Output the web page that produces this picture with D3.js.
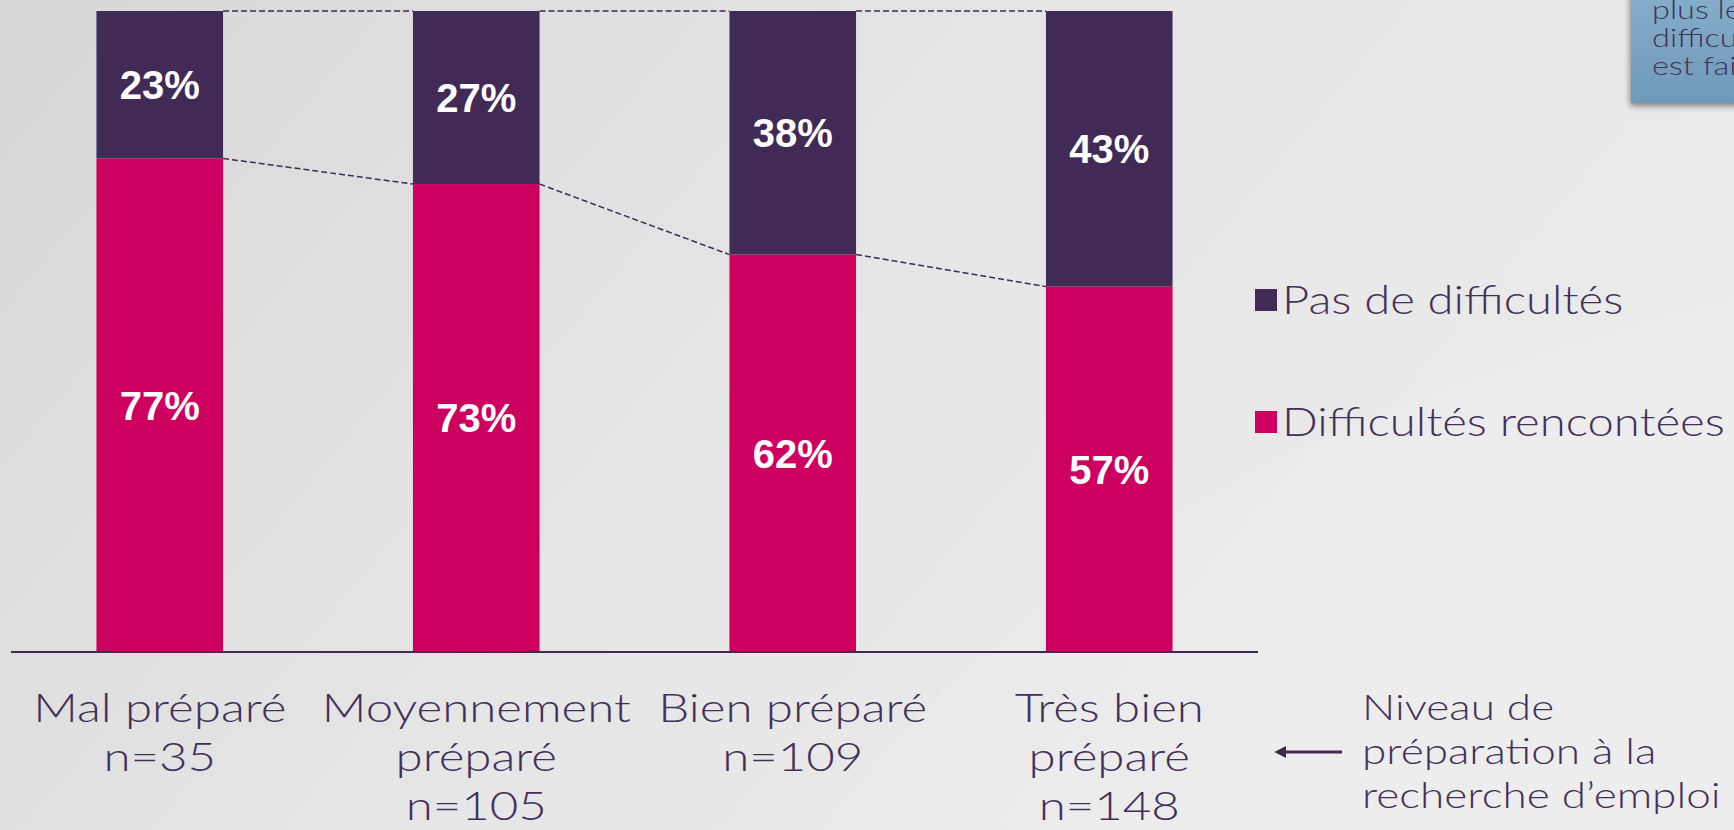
<!DOCTYPE html>
<html>
<head>
<meta charset="utf-8">
<script src="https://cdn.jsdelivr.net/npm/d3@7"></script>
<style>
  html, body { margin: 0; padding: 0; overflow: hidden; }
  body { width: 1734px; height: 830px; }
  svg { display: block; font-family: 'Lato', 'Open Sans', sans-serif; }
</style>
</head>
<body>
<div id="chart"></div>
<script>
// chart values
const categories = ['Mal préparé', 'Moyennement préparé', 'Bien préparé', 'Très bien préparé'];
const categoryLines = [
  ['Mal préparé', 'n=35'],
  ['Moyennement', 'préparé', 'n=105'],
  ['Bien préparé', 'n=109'],
  ['Très bien', 'préparé', 'n=148'],
];
const difficultes = [77, 73, 62, 57];
const pasDeDifficultes = [23, 27, 38, 43];
const seriesNames = ['Difficultés rencontées', 'Pas de difficultés'];
const noteLines = ['plus  le niveau', 'difficultés', 'est faible'];
const axisNote = ['Niveau de', 'préparation à la', 'recherche d\u2019emploi'];

const cfg = {
  width: 1734,
  height: 830,
  purple: '#422a57',
  magenta: '#cd0060',
  text: '#43305a',
  stretch: 1.23, // widen Lato so it reads like the wide geometric face of the slide
};

const svg = d3.select('#chart')
  .append('svg')
  .attr('width', cfg.width)
  .attr('height', cfg.height);

const defs = svg.append('defs');
const bg = defs.append('linearGradient')
  .attr('id', 'bg').attr('x1', '0').attr('y1', '0').attr('x2', '1').attr('y2', '0.4');
bg.append('stop').attr('offset', '0').attr('stop-color', '#d7d7d7');
bg.append('stop').attr('offset', '0.55').attr('stop-color', '#e6e6e6');
bg.append('stop').attr('offset', '1').attr('stop-color', '#ebebeb');

const boxGrad = defs.append('linearGradient')
  .attr('id', 'box').attr('x1', '0').attr('y1', '0').attr('x2', '0').attr('y2', '1');
boxGrad.append('stop').attr('offset', '0').attr('stop-color', '#86b0cc');
boxGrad.append('stop').attr('offset', '1').attr('stop-color', '#6f99b8');

const shadow = defs.append('filter').attr('id', 'shadow')
  .attr('x', '-20%').attr('y', '-20%').attr('width', '140%').attr('height', '150%');
shadow.append('feDropShadow')
  .attr('dx', -1).attr('dy', 3).attr('stdDeviation', 3)
  .attr('flood-color', '#000').attr('flood-opacity', 0.45);

svg.append('rect')
  .attr('width', cfg.width).attr('height', cfg.height)
  .attr('fill', 'url(#bg)');

// faint diagonal sheen like the slide background
svg.append('path')
  .attr('d', 'M820,830 C1000,600 1250,420 1734,300 L1734,830 Z')
  .attr('fill', '#ffffff').attr('opacity', 0.12);

// text widened horizontally around its anchor point
function wideText(parent, xPos, yPos, size, anchor, stretch) {
  return parent.append('g')
    .attr('transform', `translate(${xPos},${yPos})`)
    .append('text')
    .attr('transform', `scale(${stretch || cfg.stretch},1)`)
    .attr('text-anchor', anchor || 'start')
    .attr('fill', cfg.text)
    .style('font-size', `${size}px`)
    .style('font-weight', 300);
}

const plot = { left: 11, right: 1258, top: 11, bottom: 652 };

const x = d3.scaleBand()
  .domain(categories)
  .range([plot.left, plot.right])
  .paddingInner(0.6)
  .paddingOuter(0.27);

const y = d3.scaleLinear()
  .domain([0, 100])
  .range([plot.bottom, plot.top]);

const rows = categories.map((c, i) => ({
  cat: c,
  [seriesNames[0]]: difficultes[i],
  [seriesNames[1]]: pasDeDifficultes[i],
}));
const stacked = d3.stack().keys(seriesNames)(rows);
const colors = d3.scaleOrdinal().domain(seriesNames).range([cfg.magenta, cfg.purple]);

// dashed connectors between bars
stacked.forEach((layer) => {
  const segs = d3.pairs(layer);
  svg.append('g').selectAll('line')
    .data(segs).enter().append('line')
    .attr('x1', d => x(d[0].data.cat) + x.bandwidth())
    .attr('x2', d => x(d[1].data.cat))
    .attr('y1', d => y(d[0][1]))
    .attr('y2', d => y(d[1][1]))
    .style('stroke', cfg.purple)
    .style('stroke-width', 1.5)
    .style('stroke-dasharray', '6,3');
});

const layers = svg.append('g').selectAll('g')
  .data(stacked).enter().append('g')
  .attr('fill', d => colors(d.key));

layers.selectAll('rect')
  .data(d => d).enter().append('rect')
  .attr('x', d => x(d.data.cat))
  .attr('width', x.bandwidth())
  .attr('y', d => y(d[1]))
  .attr('height', d => y(d[0]) - y(d[1]));

layers.selectAll('text')
  .data(d => d).enter().append('text')
  .attr('x', d => x(d.data.cat) + x.bandwidth() / 2)
  .attr('y', d => (y(d[0]) + y(d[1])) / 2)
  .attr('dy', '0.36em')
  .attr('text-anchor', 'middle')
  .attr('fill', '#fff')
  .style('font-family', "'Liberation Sans', Arial, sans-serif")
  .style('font-weight', 'bold')
  .style('font-size', '40px')
  .text(d => `${d[1] - d[0]}%`);

// baseline
svg.append('line')
  .attr('x1', plot.left).attr('x2', plot.right)
  .attr('y1', plot.bottom).attr('y2', plot.bottom)
  .style('stroke', cfg.purple)
  .style('stroke-width', 2);

// category labels
const catGroup = svg.append('g');
categories.forEach((c, i) => {
  const t = wideText(catGroup, x(c) + x.bandwidth() / 2, 722, 40, 'middle');
  t.selectAll('tspan')
    .data(categoryLines[i]).enter().append('tspan')
    .attr('x', 0)
    .attr('dy', (d, j) => (j === 0 ? 0 : 49))
    .text(d => d);
});

// legend
const legendGroup = svg.append('g');
seriesNames.slice().reverse().forEach((name, i) => {
  const top = 289 + i * 122;
  legendGroup.append('rect')
    .attr('x', 1255).attr('y', top)
    .attr('width', 22).attr('height', 22)
    .attr('fill', colors(name));
  wideText(legendGroup, 1282, top + 25, 40, 'start', 1.18).text(name);
});

// axis note with arrow
defs.append('marker')
  .attr('id', 'arrow').attr('viewBox', '0 0 10 10')
  .attr('refX', 1).attr('refY', 5)
  .attr('markerWidth', 4).attr('markerHeight', 4)
  .attr('orient', 'auto-start-reverse')
  .append('path').attr('d', 'M0,0 L10,5 L0,10 Z').attr('fill', cfg.purple);

svg.append('line')
  .attr('x1', 1342).attr('x2', 1285)
  .attr('y1', 752).attr('y2', 752)
  .style('stroke', cfg.purple)
  .style('stroke-width', 3)
  .attr('marker-end', 'url(#arrow)');

const noteGroup = svg.append('g');
axisNote.forEach((line, i) => {
  wideText(noteGroup, 1362, 720 + i * 44, 35, 'start', 1.26).text(line);
});

// note box in the top right corner
const note = svg.append('g');
note.append('rect')
  .attr('x', 1631).attr('y', -20)
  .attr('width', 140).attr('height', 123)
  .attr('fill', 'url(#box)')
  .attr('filter', 'url(#shadow)');
noteLines.forEach((line, i) => {
  wideText(note, 1652, 19 + i * 28, 25, 'start', 1.3).text(line);
});
</script>
</body>
</html>
